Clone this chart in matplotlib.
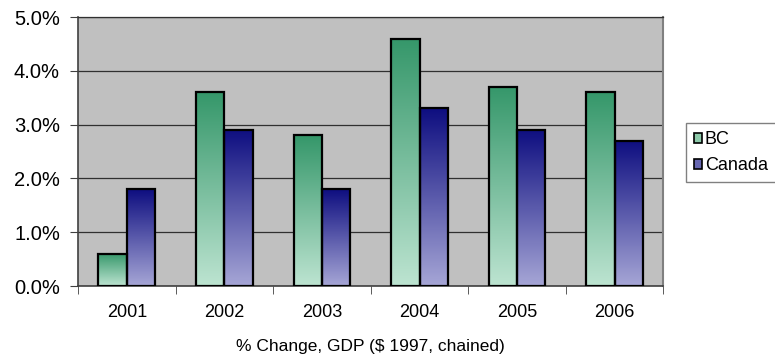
import numpy as np
import matplotlib.pyplot as plt
from matplotlib.patches import Patch
from matplotlib.colors import LinearSegmentedColormap

plt.rcParams['font.family'] = ['Liberation Sans', 'DejaVu Sans']

# ── data ─────────────────────────────────────────────────────────────────────
years  = ["2001", "2002", "2003", "2004", "2005", "2006"]
bc     = [0.6, 3.6, 2.8, 4.6, 3.7, 3.6]
canada = [1.8, 2.9, 1.8, 3.3, 2.9, 2.7]
series = ["BC", "Canada"]

# gradient colours (top, bottom)
BC_TOP, BC_BOT = "#35976A", "#BDE4D1"
CA_TOP, CA_BOT = "#0E0E80", "#A6A6D6"

# ── plot ─────────────────────────────────────────────────────────────────────
fig = plt.figure(figsize=(7.75, 3.56), dpi=100)
ax = fig.add_axes([0.1006, 0.1966, 0.7555, 0.7556])
ax.set_facecolor("#C0C0C0")

x = np.arange(len(years))
w = 0.29
grad = np.linspace(1, 0, 256).reshape(-1, 1)


def gradient_bar(xc, h, top, bot):
    cmap = LinearSegmentedColormap.from_list("g", [bot, top])
    ax.imshow(grad, extent=(xc - w / 2, xc + w / 2, 0, h), aspect="auto",
              cmap=cmap, origin="upper", zorder=2, interpolation="bicubic")
    ax.bar(xc, h, w, facecolor="none", edgecolor="black", linewidth=1.6,
           zorder=3)


for i in range(len(years)):
    gradient_bar(x[i] - w / 2, bc[i], BC_TOP, BC_BOT)
    gradient_bar(x[i] + w / 2, canada[i], CA_TOP, CA_BOT)

ax.set_xlim(-0.5, len(years) - 0.5)
ax.set_ylim(0, 5.0)

ax.set_yticks(np.arange(0, 5.01, 1.0))
ax.set_yticklabels([f"{v:.1f}%" for v in np.arange(0, 5.01, 1.0)], fontsize=14.5)
ax.yaxis.grid(True, color="#303030", linewidth=0.9)
ax.set_axisbelow(True)

ax.set_xticks(x)
ax.set_xticklabels(years, fontsize=13)
ax.set_xticks(np.arange(-0.5, len(years), 1.0), minor=True)
ax.tick_params(axis="x", which="major", length=0, pad=13)
ax.tick_params(axis="x", which="minor", length=6, color="#404040")
ax.tick_params(axis="y", length=6, color="#404040", pad=7)

ax.set_xlabel("% Change, GDP ($ 1997, chained)", fontsize=12.5, labelpad=13)

for s in ["left", "bottom"]:
    ax.spines[s].set_color("#404040")
    ax.spines[s].set_linewidth(1.2)
ax.spines["right"].set_color("#808080")
ax.spines["right"].set_linewidth(1.5)
ax.spines["top"].set_color("#303030")
ax.spines["top"].set_linewidth(0.9)

handles = [Patch(facecolor="#8CC9A9", edgecolor="black", linewidth=1.2),
           Patch(facecolor="#6666B0", edgecolor="black", linewidth=1.2)]
leg = fig.legend(handles, series, loc="upper left",
                 bbox_to_anchor=(686 / 775, 1 - 123 / 356), fontsize=13,
                 frameon=True, fancybox=False, handlelength=0.45,
                 handleheight=0.45, handletextpad=0.15, borderpad=0.45,
                 labelspacing=0.5, borderaxespad=0)
leg.get_frame().set_edgecolor("#606060")
leg.get_frame().set_linewidth(1.0)

fig.savefig("out.png", dpi=100)
